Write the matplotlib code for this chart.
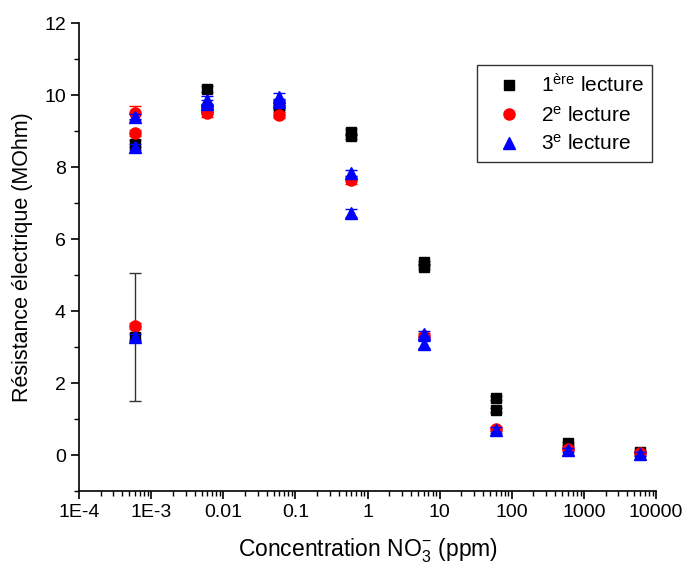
import matplotlib
matplotlib.use("Agg")
import matplotlib.pyplot as plt
from matplotlib.lines import Line2D
from matplotlib.ticker import LogLocator, FixedLocator, MultipleLocator

plt.rcParams['font.family'] = ['Liberation Sans', 'DejaVu Sans']
plt.rcParams['mathtext.fontset'] = 'custom'
plt.rcParams['mathtext.rm'] = 'Liberation Sans'
plt.rcParams['mathtext.it'] = 'Liberation Sans'
plt.rcParams['mathtext.bf'] = 'Liberation Sans'

# Data
x_black = [6e-4, 6e-4, 6e-3, 6e-3, 6e-2, 6e-2, 0.6, 0.6, 6, 6, 60, 60, 600, 6000]
y_black = [8.65, 3.28, 10.17, 9.62, 9.75, 9.65, 8.98, 8.85, 5.35, 5.22, 1.58, 1.25, 0.33, 0.09]
e_black = [0.10, 1.77, 0.08, 0.10, 0.08, 0.08, 0.08, 0.08, 0.05, 0.05, 0.05, 0.05, 0.04, 0.04]

x_red = [6e-4, 6e-4, 6e-4, 6e-3, 6e-3, 6e-2, 0.6, 6, 60, 600, 6000]
y_red = [9.50, 8.95, 3.58, 9.50, 9.60, 9.45, 7.64, 3.30, 0.72, 0.18, 0.06]
e_red = [0.20, 0.08, 0.08, 0.10, 0.08, 0.08, 0.10, 0.08, 0.06, 0.05, 0.04]

x_blue = [6e-4, 6e-4, 6e-4, 6e-3, 6e-3, 6e-2, 6e-2, 0.6, 0.6, 6, 6, 60, 600, 6000]
y_blue = [9.40, 8.55, 3.28, 9.86, 9.76, 9.95, 9.80, 7.83, 6.72, 3.36, 3.08, 0.70, 0.14, 0.03]
e_blue = [0.08, 0.08, 0.08, 0.10, 0.10, 0.10, 0.08, 0.08, 0.10, 0.08, 0.10, 0.08, 0.05, 0.05]

labels = [r"1$^{\mathregular{ère}}$ lecture", r"2$^{\mathregular{e}}$ lecture", r"3$^{\mathregular{e}}$ lecture"]
x_ticks = [1e-4, 1e-3, 1e-2, 1e-1, 1, 10, 100, 1000, 10000]
x_ticklabels = ["1E-4", "1E-3", "0.01", "0.1", "1", "10", "100", "1000", "10000"]
y_ticks = [0, 2, 4, 6, 8, 10, 12]

W, H = 685, 569
fig = plt.figure(figsize=(W / 100, H / 100), dpi=100)
ax = fig.add_axes([79 / W, 1 - 491 / H, (656 - 79) / W, (491 - 23) / H])

ax.errorbar(x_black, y_black, yerr=e_black, fmt='s', color='black', ms=7,
            ecolor='#333333', elinewidth=1, capsize=4, capthick=1, zorder=2)
ax.errorbar(x_red, y_red, yerr=e_red, fmt='o', color='red', ms=8,
            ecolor='red', elinewidth=1, capsize=4, capthick=1, zorder=3)
ax.errorbar(x_blue, y_blue, yerr=e_blue, fmt='^', color='blue', ms=9,
            ecolor='blue', elinewidth=1, capsize=4, capthick=1, zorder=4)

ax.set_xscale('log')
ax.set_xlim(1e-4, 1e4)
ax.set_ylim(-1, 12)
ax.xaxis.set_major_locator(FixedLocator(x_ticks))
ax.set_xticklabels(x_ticklabels)
ax.xaxis.set_minor_locator(LogLocator(base=10, subs=range(2, 10), numticks=100))
ax.set_yticks(y_ticks)
ax.yaxis.set_minor_locator(MultipleLocator(1))

ax.spines['top'].set_visible(False)
ax.spines['right'].set_visible(False)
for s in ['left', 'bottom']:
    ax.spines[s].set_linewidth(1.2)

ax.tick_params(axis='both', which='major', direction='out', length=6, width=1.2, labelsize=14)
ax.tick_params(axis='both', which='minor', direction='out', length=3.5, width=1.0)

ax.set_xlabel(r"Concentration NO$_3^{-}$ (ppm)", fontsize=16.5, labelpad=11)
ax.set_ylabel("Résistance électrique (MOhm)", fontsize=15.5, labelpad=8)

handles = [
    Line2D([], [], ls='none', marker='s', color='black', ms=7),
    Line2D([], [], ls='none', marker='o', color='red', ms=8),
    Line2D([], [], ls='none', marker='^', color='blue', ms=9),
]
leg = ax.legend(handles, labels, loc='upper right', bbox_to_anchor=(652 / W, 1 - 65 / H),
                bbox_transform=fig.transFigure, borderaxespad=0, fontsize=15,
                frameon=True, fancybox=False, edgecolor='black', handletextpad=0.35,
                borderpad=0.4, labelspacing=0.42, handlelength=2.3)
leg.get_frame().set_linewidth(1.0)

fig.savefig("out.png", dpi=100)
